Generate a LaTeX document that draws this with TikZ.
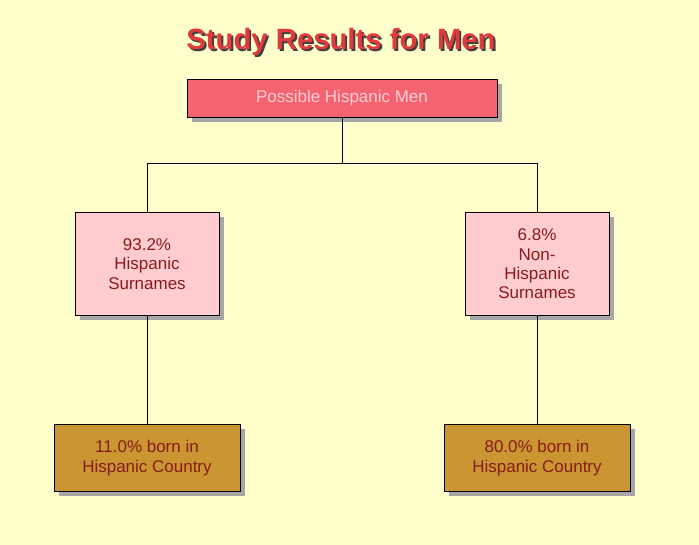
\documentclass[tikz,border=0pt]{standalone}
\usepackage{fontspec}
\setmainfont{Liberation Sans}
\usetikzlibrary{shadows}
\definecolor{bgyellow}{HTML}{FFFFCC}
\definecolor{topred}{HTML}{F36470}
\definecolor{midpink}{HTML}{FFCCD0}
\definecolor{lowgold}{HTML}{C99632}
\definecolor{txtred}{HTML}{8B1A1A}
\definecolor{titlered}{HTML}{E03A3A}
\newcommand\shadowtext[1]{\rlap{\raisebox{-1.6pt}{\hspace{1.6pt}\textcolor{black!75}{#1}}}\textcolor{titlered}{#1}}
\tikzset{
  box/.style={draw=black, thin, align=center, font=\fontsize{14.5}{16.5}\selectfont,
    drop shadow={shadow xshift=4pt, shadow yshift=-4pt, fill=gray!70, opacity=1}},
  link/.style={draw=black, thin}
}
\begin{document}
\begin{tikzpicture}[x=0.03cm, y=-0.03cm]
  \fill[bgyellow] (0,0) rectangle (699,545);
  \useasboundingbox (0,0) rectangle (699,545);

  % title
  \node[font=\bfseries\fontsize{25}{28}\selectfont] (title) at (341,43) {\shadowtext{Study Results for Men}};

  % boxes
  \node[box, fill=topred, text=midpink, minimum width=310*0.03cm, minimum height=38*0.03cm] (top) at (342,98) {Possible Hispanic Men};
  \node[box, fill=midpink, text=txtred, minimum width=144*0.03cm, minimum height=103*0.03cm] (hisp) at (147,264) {93.2\%\\Hispanic\\Surnames};
  \node[box, fill=midpink, text=txtred, minimum width=144*0.03cm, minimum height=103*0.03cm] (nonhisp) at (537,264) {6.8\%\\Non-\\Hispanic\\Surnames};
  \node[box, fill=lowgold, text=txtred, minimum width=186*0.03cm, minimum height=67*0.03cm] (hispborn) at (147,458) {11.0\% born in\\Hispanic Country};
  \node[box, fill=lowgold, text=txtred, minimum width=186*0.03cm, minimum height=67*0.03cm] (nonhispborn) at (537,458) {80.0\% born in\\Hispanic Country};

  % connectors
  \coordinate (split) at (342,163);
  \draw[link] (top.south) -- (split);
  \draw[link] (split) -| (hisp.north);
  \draw[link] (split) -| (nonhisp.north);
  \draw[link] (hisp.south) -- (hispborn.north);
  \draw[link] (nonhisp.south) -- (nonhispborn.north);
\end{tikzpicture}
\end{document}
